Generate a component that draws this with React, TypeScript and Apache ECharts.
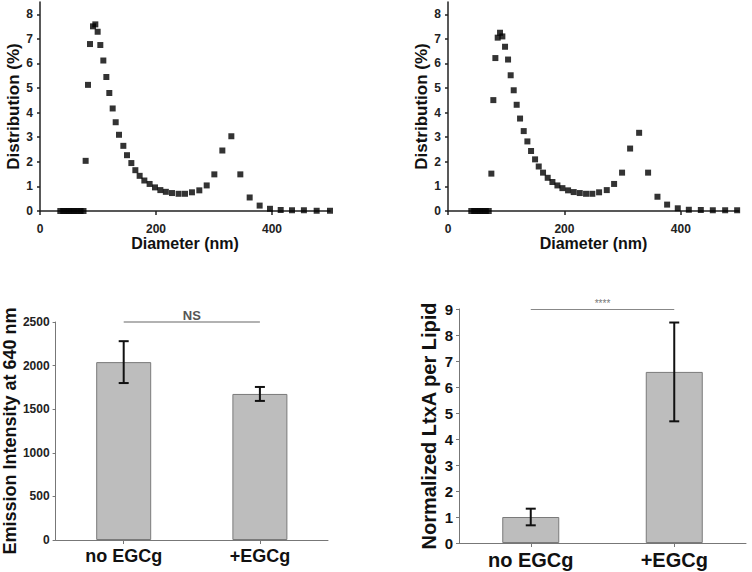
import React, { useEffect, useRef } from "react";
import * as echarts from "echarts";

// Top-left size distribution (nm, %)
const sizeA_x = [35, 40, 45, 50, 55, 60, 65, 70, 75, 78.7, 82.8, 86.2, 91.4, 95.4, 99.4, 104, 109.2, 114.4, 119.5, 125.3, 130.5, 136.2, 143.7, 150, 157.5, 164.4, 171.8, 179.9, 189, 198.3, 207.5, 217, 227.6, 239, 250, 262, 274.7, 287.4, 300.6, 314.4, 329.9, 345.4, 361.5, 378.7, 396.5, 415, 434.5, 455, 477, 500];
const sizeA_y = [0, 0, 0, 0, 0, 0, 0, 0, 0, 2.04, 5.13, 6.79, 7.51, 7.59, 7.29, 6.75, 6.12, 5.45, 4.8, 4.17, 3.61, 3.1, 2.65, 2.27, 1.95, 1.66, 1.43, 1.24, 1.1, 0.96, 0.85, 0.78, 0.73, 0.7, 0.7, 0.76, 0.84, 1.04, 1.49, 2.46, 3.04, 1.49, 0.55, 0.22, 0.09, 0.04, 0.03, 0.03, 0.01, 0.01];

// Top-right size distribution
const sizeB_x = [40, 45, 50, 55, 60, 65, 70, 74.5, 77.9, 81.4, 85.4, 89.4, 93.4, 98, 103.2, 107.7, 112.9, 118, 123.8, 130.1, 136.4, 142.7, 149.6, 155.9, 163.3, 171.3, 179.4, 188, 196.6, 206.3, 216, 226.4, 237.2, 248, 259.6, 272.8, 285.4, 299.1, 312.9, 328.4, 343.8, 359.9, 376.5, 394.8, 413.8, 434.4, 455, 476.2, 496.8];
const sizeB_y = [0, 0, 0, 0, 0, 0, 0, 1.52, 4.51, 6.22, 7.05, 7.25, 7.1, 6.68, 6.16, 5.52, 4.91, 4.32, 3.76, 3.25, 2.83, 2.44, 2.1, 1.81, 1.56, 1.35, 1.18, 1.04, 0.93, 0.84, 0.77, 0.73, 0.7, 0.7, 0.76, 0.85, 1.1, 1.56, 2.54, 3.18, 1.56, 0.58, 0.26, 0.11, 0.05, 0.04, 0.03, 0.03, 0.03];

const groups = ["no EGCg", "+EGCg"];
const emission = [2040, 1675];
const emissionErr = [240, 80];
const emissionSigLevel = 2500;
const emissionSig = "NS";

const ltxa = [1.0, 6.58];
const ltxaErr = [0.32, 1.9];
const ltxaSigLevel = 9;
const ltxaSig = "****";

const FONT = "Liberation Sans, Arial, sans-serif";

function errorSeries(idx: number, vals: number[], errs: number[]) {
  const data = vals.map((v, i) => [i, v - errs[i], v + errs[i]]);
  return {
    type: "custom",
    xAxisIndex: idx,
    yAxisIndex: idx,
    silent: true,
    z: 5,
    data,
    renderItem: (params: any, api: any) => {
      const x = api.value(0);
      const lo = api.coord([x, api.value(1)]);
      const hi = api.coord([x, api.value(2)]);
      const hw = 5;
      const style = { stroke: "#111", lineWidth: 2 };
      return {
        type: "group",
        children: [
          { type: "line", shape: { x1: lo[0], y1: lo[1], x2: hi[0], y2: hi[1] }, style },
          { type: "line", shape: { x1: lo[0] - hw, y1: lo[1], x2: lo[0] + hw, y2: lo[1] }, style },
          { type: "line", shape: { x1: hi[0] - hw, y1: hi[1], x2: hi[0] + hw, y2: hi[1] }, style },
        ],
      };
    },
  };
}

const plain = (v: number) => String(v);

function sizeXAxis(gridIndex: number) {
  return {
    type: "value",
    gridIndex,
    min: 0,
    max: 500,
    interval: 200,
    name: "Diameter (nm)",
    nameLocation: "middle",
    nameGap: 24,
    nameTextStyle: { fontFamily: FONT, fontWeight: "bold", fontSize: 16, color: "#111" },
    axisLine: { lineStyle: { color: "#222", width: 1.5 } },
    axisTick: { show: true, length: 4, lineStyle: { color: "#222", width: 1.5 } },
    axisLabel: { showMaxLabel: false, margin: 12, fontFamily: FONT, fontWeight: "bold", fontSize: 12, color: "#222", formatter: plain },
    splitLine: { show: false },
  };
}

function sizeYAxis(gridIndex: number) {
  return {
    type: "value",
    gridIndex,
    min: 0,
    max: 8.5,
    interval: 1,
    name: "Distribution (%)",
    nameLocation: "middle",
    nameGap: 16,
    nameTextStyle: { fontFamily: FONT, fontWeight: "bold", fontSize: 17, color: "#111" },
    axisLine: { lineStyle: { color: "#222", width: 1.5 } },
    axisTick: { show: true, length: 3, lineStyle: { color: "#222", width: 1.5 } },
    axisLabel: { showMaxLabel: false, margin: 7, fontFamily: FONT, fontWeight: "bold", fontSize: 12, color: "#222", formatter: plain },
    splitLine: { show: false },
  };
}

export default function App() {
  const ref = useRef<HTMLDivElement>(null);
  useEffect(() => {
    if (!ref.current) return;
    const chart = echarts.init(ref.current, null, { renderer: "svg" });
    const option: any = {
      animation: false,
      backgroundColor: "#ffffff",
      grid: [
        { left: 40, top: 2, width: 290, height: 209 },
        { left: 448, top: 2, width: 291, height: 209 },
        { left: 55, top: 322, width: 273, height: 218 },
        { left: 459, top: 309, width: 287, height: 234 },
      ],
      xAxis: [
        sizeXAxis(0),
        sizeXAxis(1),
        {
          type: "category",
          gridIndex: 2,
          data: groups,
          axisLine: { lineStyle: { color: "#777", width: 1 } },
          axisTick: { show: true, alignWithLabel: true, length: 4, lineStyle: { color: "#777" } },
          axisLabel: { margin: 7, fontFamily: FONT, fontWeight: "bold", fontSize: 18, color: "#111" },
        },
        {
          type: "category",
          gridIndex: 3,
          data: groups,
          axisLine: { lineStyle: { color: "#777", width: 1 } },
          axisTick: { show: true, alignWithLabel: true, length: 4, lineStyle: { color: "#777" } },
          axisLabel: { margin: 7, fontFamily: FONT, fontWeight: "bold", fontSize: 20, color: "#111" },
        },
      ],
      yAxis: [
        sizeYAxis(0),
        sizeYAxis(1),
        {
          type: "value",
          gridIndex: 2,
          min: 0,
          max: 2500,
          interval: 500,
          name: "Emission Intensity at 640 nm",
          nameLocation: "middle",
          nameGap: 34,
          nameTextStyle: { fontFamily: FONT, fontWeight: "bold", fontSize: 18, color: "#111" },
          axisLine: { show: true, lineStyle: { color: "#777", width: 1 } },
          axisTick: { show: true, length: 3, lineStyle: { color: "#777" } },
          axisLabel: { margin: 6, fontFamily: FONT, fontWeight: "bold", fontSize: 12, color: "#222", formatter: plain },
          splitLine: { show: false },
        },
        {
          type: "value",
          gridIndex: 3,
          min: 0,
          max: 9,
          interval: 1,
          name: "Normalized LtxA per Lipid",
          nameLocation: "middle",
          nameGap: 20,
          nameTextStyle: { fontFamily: FONT, fontWeight: "bold", fontSize: 20, color: "#111" },
          axisLine: { show: true, lineStyle: { color: "#777", width: 1 } },
          axisTick: { show: true, length: 3, lineStyle: { color: "#777" } },
          axisLabel: { margin: 6, fontFamily: FONT, fontWeight: "bold", fontSize: 15, color: "#111", formatter: plain },
          splitLine: { show: false },
        },
      ],
      series: [
        {
          type: "scatter",
          xAxisIndex: 0,
          yAxisIndex: 0,
          symbol: "rect",
          symbolSize: 6,
          itemStyle: { color: "#000" },
          data: sizeA_x.map((x, i) => [x, sizeA_y[i]]),
        },
        {
          type: "scatter",
          xAxisIndex: 1,
          yAxisIndex: 1,
          symbol: "rect",
          symbolSize: 6,
          itemStyle: { color: "#000" },
          data: sizeB_x.map((x, i) => [x, sizeB_y[i]]),
        },
        {
          type: "bar",
          xAxisIndex: 2,
          yAxisIndex: 2,
          barWidth: 55,
          itemStyle: { color: "#bdbdbd", borderColor: "#7a7a7a", borderWidth: 1 },
          data: emission,
          markLine: {
            silent: true,
            symbol: "none",
            lineStyle: { color: "#999", type: "solid", width: 1.5 },
            label: { show: true, position: "middle", distance: 0, formatter: emissionSig, fontFamily: FONT, fontWeight: "bold", fontSize: 13, color: "#555" },
            data: [[{ coord: [groups[0], emissionSigLevel] }, { coord: [groups[1], emissionSigLevel] }]],
          },
        },
        errorSeries(2, emission, emissionErr),
        {
          type: "bar",
          xAxisIndex: 3,
          yAxisIndex: 3,
          barWidth: 57,
          itemStyle: { color: "#bdbdbd", borderColor: "#7a7a7a", borderWidth: 1 },
          data: ltxa,
          markLine: {
            silent: true,
            symbol: "none",
            lineStyle: { color: "#888", type: "solid", width: 1 },
            label: { show: true, position: "middle", distance: 1, formatter: ltxaSig, fontFamily: FONT, fontSize: 10, color: "#777" },
            data: [[{ coord: [groups[0], ltxaSigLevel] }, { coord: [groups[1], ltxaSigLevel] }]],
          },
        },
        errorSeries(3, ltxa, ltxaErr),
      ],
    };
    chart.setOption(option);
    return () => chart.dispose();
  }, []);
  return (
    <div
      ref={ref}
      style={{ position: "fixed", left: 0, top: 0, width: 752, height: 572, background: "#fff" }}
    />
  );
}
